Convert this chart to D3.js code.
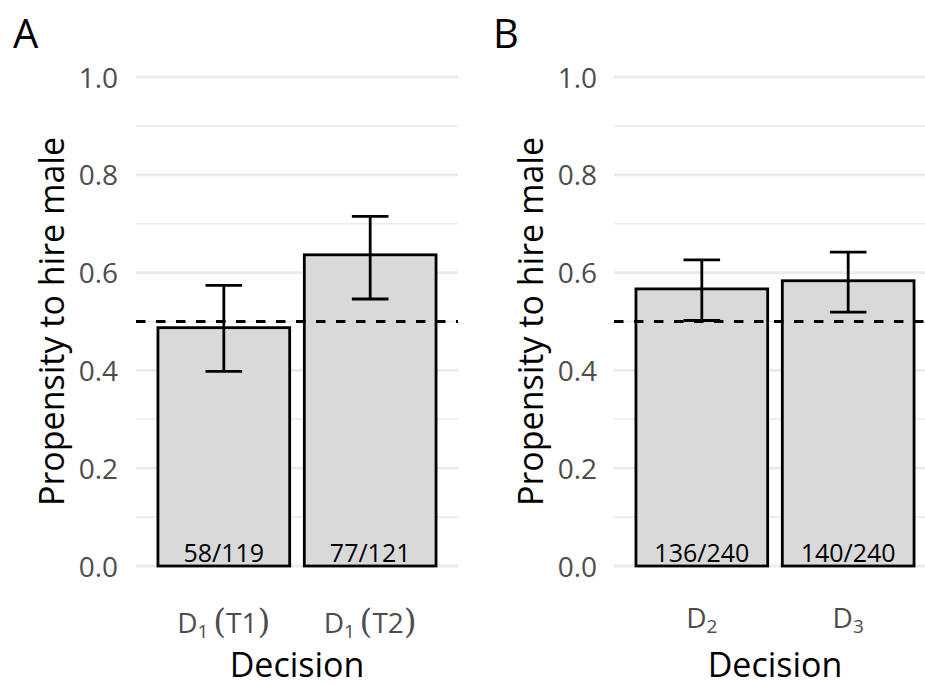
<!DOCTYPE html>
<html>
<head>
<meta charset="utf-8">
<script src="https://cdn.jsdelivr.net/npm/d3@7"></script>
<style>
  html, body { margin: 0; padding: 0; background: #fff; }
  svg { display: block; font-family: "Open Sans", "Noto Sans", sans-serif; }
</style>
</head>
<body>
<svg id="chart" width="925" height="684"></svg>
<script>
// ---- Data ----
const panelA_categories = ["D1 (T1)", "D1 (T2)"];
const panelA_successes = [58, 77];
const panelA_totals = [119, 121];
const panelA_lower = [0.398, 0.546];
const panelA_upper = [0.574, 0.715];

const panelB_categories = ["D2", "D3"];
const panelB_successes = [136, 140];
const panelB_totals = [240, 240];
const panelB_lower = [0.502, 0.519];
const panelB_upper = [0.626, 0.642];

const yMajorTicks = [0, 0.2, 0.4, 0.6, 0.8, 1.0];
const yMinorTicks = [0.1, 0.3, 0.5, 0.7, 0.9];
const referenceLine = 0.5;
const panelLetters = ["A", "B"];
const yTitle = "Propensity to hire male";
const xTitle = "Decision";

// ---- Layout ----
const svg = d3.select("#chart");
const plotTop = 77, plotBottom = 566;
const panels = [
  { letter: panelLetters[0], x0: 136, x1: 458, letterX: 13, yTitleX: 64, tickLabelX: 118, xLabelY: 633,
    cats: panelA_categories, s: panelA_successes, n: panelA_totals, lo: panelA_lower, hi: panelA_upper },
  { letter: panelLetters[1], x0: 614, x1: 936, letterX: 493, yTitleX: 543, tickLabelX: 597, xLabelY: 628,
    cats: panelB_categories, s: panelB_successes, n: panelB_totals, lo: panelB_lower, hi: panelB_upper }
];

const y = d3.scaleLinear().domain([0, 1]).range([plotBottom, plotTop]);

panels.forEach(p => {
  const g = svg.append("g");
  const data = p.cats.map((c, i) => ({ cat: c, s: p.s[i], n: p.n[i], prop: p.s[i] / p.n[i], lo: p.lo[i], hi: p.hi[i] }));

  // discrete x scale with ggplot-style expansion (0.6 units each side), bar width 0.9
  const u = (p.x1 - p.x0) / (p.cats.length - 1 + 1.2);
  const x = d3.scalePoint().domain(p.cats).range([p.x0 + 0.6 * u, p.x1 - 0.6 * u]);
  const cx = c => x(c);
  const barW = 0.9 * u, whiskW = 0.25 * u;

  // grid
  g.selectAll(".minor").data(yMinorTicks).enter().append("line")
    .attr("x1", p.x0).attr("x2", p.x1)
    .attr("y1", d => y(d)).attr("y2", d => y(d))
    .attr("stroke", "#EBEBEB").attr("stroke-width", 1.6);
  g.selectAll(".major").data(yMajorTicks).enter().append("line")
    .attr("x1", p.x0).attr("x2", p.x1)
    .attr("y1", d => y(d)).attr("y2", d => y(d))
    .attr("stroke", "#EBEBEB").attr("stroke-width", 2.8);

  // y axis tick labels
  const yAxis = d3.axisLeft(y).tickValues(yMajorTicks).tickFormat(d3.format(".1f")).tickSize(0).tickPadding(0);
  const ax = g.append("g").attr("transform", `translate(${p.tickLabelX},0)`).call(yAxis);
  ax.select(".domain").remove();
  ax.selectAll("text").attr("fill", "#4D4D4D").attr("font-size", 28)
    .attr("font-family", "'Open Sans', sans-serif").attr("dy", "0.36em");

  // bars
  g.selectAll(".bar").data(data).enter().append("rect")
    .attr("x", d => cx(d.cat) - barW / 2).attr("width", barW)
    .attr("y", d => y(d.prop)).attr("height", d => y(0) - y(d.prop))
    .attr("fill", "#D9D9D9").attr("stroke", "#000").attr("stroke-width", 2.8);

  // reference line
  g.append("line").attr("x1", p.x0).attr("x2", p.x1)
    .attr("y1", y(referenceLine)).attr("y2", y(referenceLine))
    .attr("stroke", "#000").attr("stroke-width", 2.8).attr("stroke-dasharray", "9.5 10.5");

  // error bars
  const eb = g.selectAll(".eb").data(data).enter().append("g").attr("stroke", "#000").attr("stroke-width", 2.8);
  eb.append("line").attr("x1", d => cx(d.cat)).attr("x2", d => cx(d.cat)).attr("y1", d => y(d.lo)).attr("y2", d => y(d.hi));
  eb.append("line").attr("x1", d => cx(d.cat) - whiskW / 2).attr("x2", d => cx(d.cat) + whiskW / 2).attr("y1", d => y(d.hi)).attr("y2", d => y(d.hi));
  eb.append("line").attr("x1", d => cx(d.cat) - whiskW / 2).attr("x2", d => cx(d.cat) + whiskW / 2).attr("y1", d => y(d.lo)).attr("y2", d => y(d.lo));

  // bar count labels
  g.selectAll(".cnt").data(data).enter().append("text")
    .attr("x", d => cx(d.cat)).attr("y", y(0) - 4)
    .attr("text-anchor", "middle").attr("font-size", 25).attr("fill", "#000")
    .text(d => `${d.s}/${d.n}`);

  // x tick labels with subscripts
  data.forEach(d => {
    const m = d.cat.match(/^D(\d)\s*(.*)$/);
    const t = g.append("text").attr("x", cx(d.cat)).attr("y", p.xLabelY)
      .attr("text-anchor", "middle").attr("fill", "#4D4D4D").attr("font-size", 28);
    t.append("tspan").text("D");
    t.append("tspan").attr("font-size", 19).attr("dy", 5).text(m[1]);
    if (m[2]) {
      const inner = m[2].replace(/[()]/g, "");
      t.append("tspan").attr("dy", -5).text("\u2009");
      t.append("tspan").attr("font-family", "'DejaVu Serif', serif").attr("font-size", 33).text("(");
      t.append("tspan").text(inner);
      t.append("tspan").attr("font-family", "'DejaVu Serif', serif").attr("font-size", 33).text(")");
    }
  });

  // axis titles
  g.append("text").attr("x", (p.x0 + p.x1) / 2).attr("y", 677)
    .attr("text-anchor", "middle").attr("font-size", 34).attr("fill", "#000").text(xTitle);
  g.append("text").attr("transform", `translate(${p.yTitleX},${(plotTop + plotBottom) / 2}) rotate(-90)`)
    .attr("text-anchor", "middle").attr("font-size", 34).attr("fill", "#000").text(yTitle);

  // panel letter
  g.append("text").attr("x", p.letterX).attr("y", 48).attr("font-size", 40).attr("fill", "#000").text(p.letter);
});
</script>
</body>
</html>
